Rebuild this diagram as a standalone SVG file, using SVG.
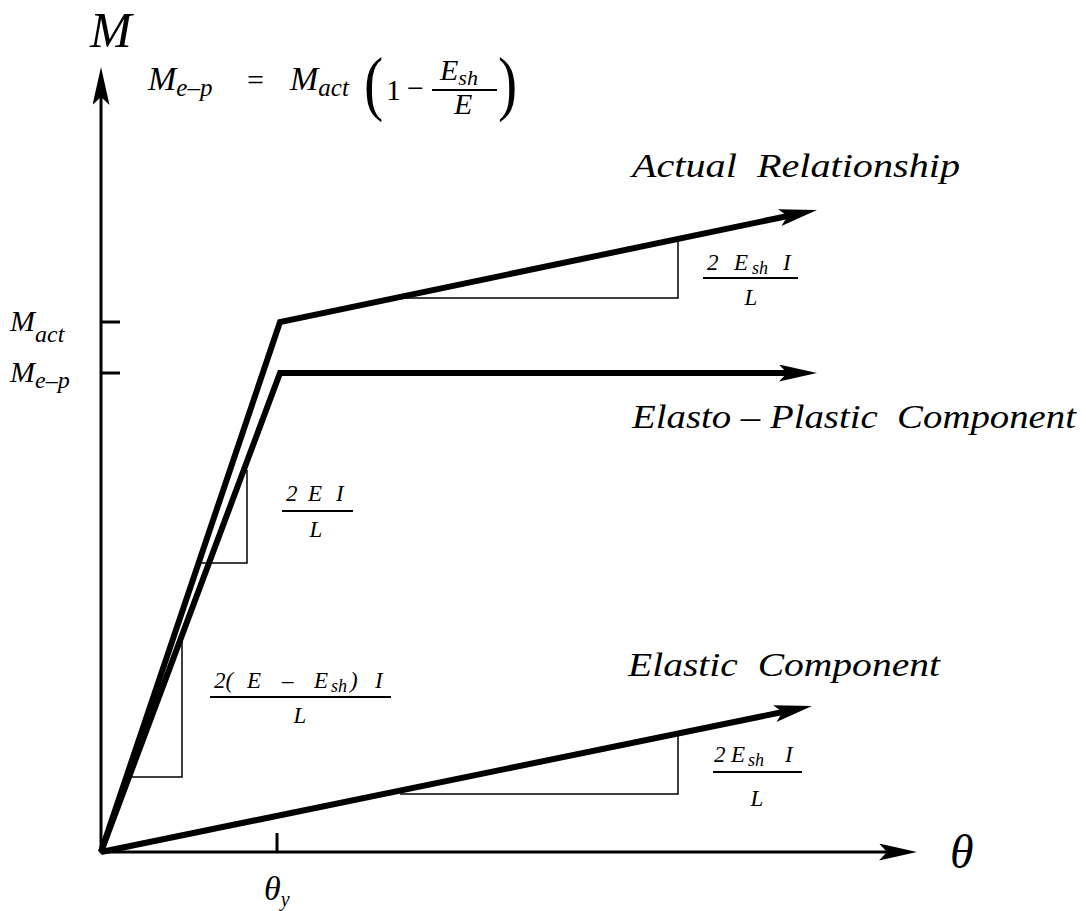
<svg xmlns="http://www.w3.org/2000/svg" width="1086" height="911" viewBox="0 0 1086 911">
<style>
.t{font-family:"Liberation Serif","DejaVu Serif",serif;font-style:italic;fill:#000;white-space:pre}
.u{font-style:normal}
.thick{stroke:#000;stroke-width:6;fill:none;stroke-linejoin:miter}
.axis{stroke:#000;stroke-width:3;fill:none}
.thin{stroke:#000;stroke-width:1.5;fill:none}
.bar{stroke:#000;stroke-width:2;fill:none}
</style>
<defs>
<marker id="ah" markerUnits="userSpaceOnUse" viewBox="0 0 38 17" refX="17" refY="8.5" markerWidth="38" markerHeight="17" orient="auto">
<path d="M0,0 L38,8.5 L0,17 L8,8.5 Z" fill="#000"/>
</marker>
</defs>
<rect width="1086" height="911" fill="#fff"/>
<g id="axes">
<line class="axis" x1="101" y1="853" x2="101" y2="88" marker-end="url(#ah)"/>
<line class="axis" x1="100" y1="852" x2="896" y2="852" marker-end="url(#ah)"/>
<line class="axis" x1="101" y1="322" x2="120" y2="322"/>
<line class="axis" x1="101" y1="373" x2="120" y2="373"/>
<line class="axis" x1="277" y1="833" x2="277" y2="852"/>
</g>
<g id="connectors">
<polyline class="thick" points="101,852 280,322 796.4,214.2" marker-end="url(#ah)"/>
<polyline class="thick" points="101,852 280,373 796,373" marker-end="url(#ah)"/>
<line class="thick" x1="101" y1="852" x2="791.4" y2="710.2" marker-end="url(#ah)"/>
</g>
<g id="slope-triangles">
<polyline class="thin" points="405,298 678,298 678,240"/>
<polyline class="thin" points="400,794 678,794 678,734"/>
<polyline class="thin" points="199,563 247,563 247,470"/>
<polyline class="thin" points="130,777 182,777 182,640"/>
</g>
<g id="axis-labels">
<text class="t" x="90" y="47" font-size="50">M</text>
<text class="t" x="950" y="868" font-size="48">θ</text>
<text class="t" x="264" y="900" font-size="34">θ<tspan font-size="20" dy="6">y</tspan></text>
<text class="t" x="10" y="331" font-size="30">M<tspan font-size="24" dy="11">act</tspan></text>
<text class="t" x="10" y="382" font-size="30">M<tspan font-size="24" dy="6">e–p</tspan></text>
</g>
<g id="formula">
<text class="t" x="148" y="90" font-size="34">M<tspan font-size="25" dy="6">e–p</tspan></text>
<text class="t u" x="247" y="90" font-size="30">=</text>
<text class="t" x="290" y="90" font-size="34">M<tspan font-size="25" dy="6">act</tspan></text>
<text class="t u" x="364" y="107" font-size="72" transform="translate(364 107) scale(0.8 1) translate(-364 -107)">(</text>
<text class="t u" x="386" y="100" font-size="30">1</text>
<text class="t u" x="407" y="98" font-size="30">−</text>
<text class="t" x="440" y="80" font-size="30">E<tspan font-size="22" dy="5">sh</tspan></text>
<line class="bar" x1="432" y1="90" x2="497" y2="90"/>
<text class="t" x="454" y="114" font-size="30">E</text>
<text class="t u" x="498" y="107" font-size="72" transform="translate(498 107) scale(0.8 1) translate(-498 -107)">)</text>
</g>
<g id="label-actual">
<text class="t" x="632" y="177" font-size="33" textLength="328" lengthAdjust="spacingAndGlyphs">Actual  Relationship</text>
<text class="t" y="270" font-size="23"><tspan x="707">2</tspan><tspan x="734">E</tspan><tspan x="752" dy="4" font-size="18">sh</tspan><tspan x="783" dy="-4">I</tspan></text>
<line class="bar" x1="703" y1="278" x2="798" y2="278"/>
<text class="t" x="751" y="305" font-size="23" text-anchor="middle">L</text>
</g>
<g id="label-elastoplastic">
<text class="t" x="632" y="428" font-size="33" textLength="444" lengthAdjust="spacingAndGlyphs">Elasto – Plastic  Component</text>
</g>
<g id="label-EI">
<text class="t" y="501" font-size="23"><tspan x="286">2</tspan><tspan x="308">E</tspan><tspan x="336">I</tspan></text>
<line class="bar" x1="282" y1="511" x2="353" y2="511"/>
<text class="t" x="316" y="537" font-size="23" text-anchor="middle">L</text>
</g>
<g id="label-EEsh">
<text class="t" y="688" font-size="23"><tspan x="214">2(</tspan><tspan x="247">E</tspan><tspan x="282">–</tspan><tspan x="314">E</tspan><tspan x="331" dy="4" font-size="18">sh</tspan><tspan x="350" dy="-4">)</tspan><tspan x="375">I</tspan></text>
<line class="bar" x1="210" y1="697" x2="391" y2="697"/>
<text class="t" x="300" y="723" font-size="23" text-anchor="middle">L</text>
</g>
<g id="label-elastic">
<text class="t" x="628" y="676" font-size="33" textLength="312" lengthAdjust="spacingAndGlyphs">Elastic  Component</text>
<text class="t" y="762" font-size="23"><tspan x="714">2</tspan><tspan x="731">E</tspan><tspan x="748" dy="4" font-size="18">sh</tspan><tspan x="785" dy="-4">I</tspan></text>
<line class="bar" x1="713" y1="772" x2="802" y2="772"/>
<text class="t" x="757" y="806" font-size="23" text-anchor="middle">L</text>
</g>
</svg>
